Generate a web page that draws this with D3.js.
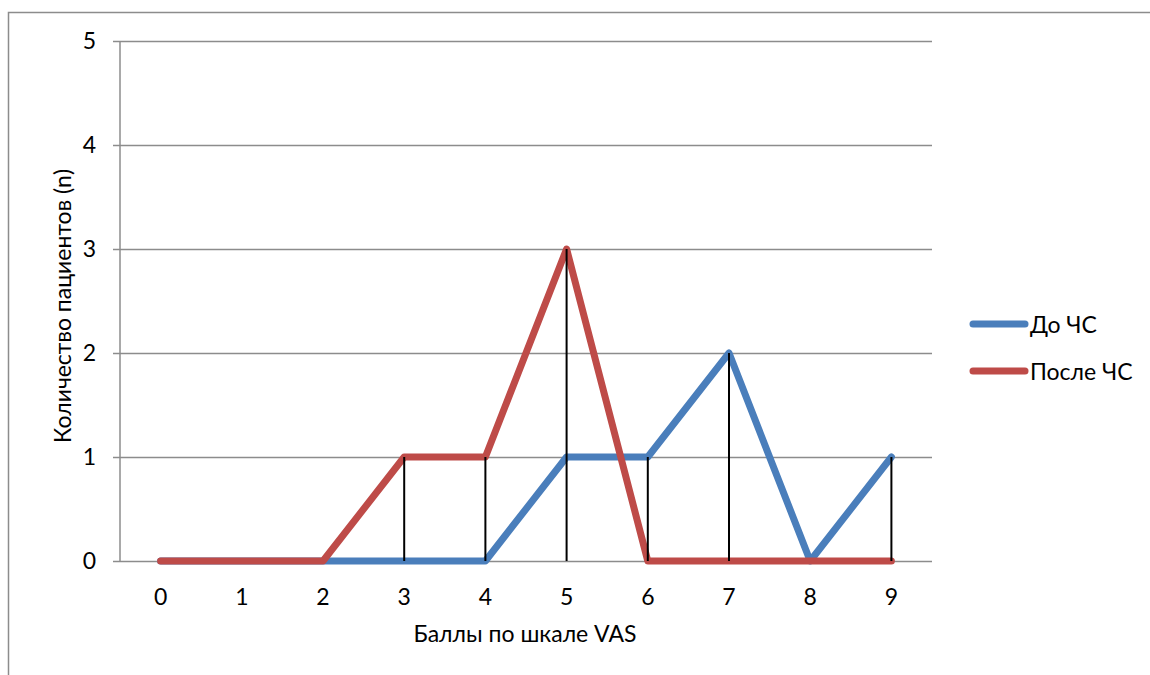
<!DOCTYPE html>
<html>
<head>
<meta charset="utf-8">
<script src="https://cdn.jsdelivr.net/npm/d3@7"></script>
<style>
  html, body { margin: 0; padding: 0; background: #fff; }
  svg { display: block; }
  text { font-family: Lato, "Open Sans", sans-serif; fill: #000; }
</style>
</head>
<body>
<svg id="chart" width="1150" height="675"></svg>
<script>
// VAS score categories and patient counts per group
const categories = [0, 1, 2, 3, 4, 5, 6, 7, 8, 9];
const beforeValues = [0, 0, 0, 0, 0, 1, 1, 2, 0, 1];
const afterValues  = [0, 0, 0, 1, 1, 3, 0, 0, 0, 0];
const yTicks = [0, 1, 2, 3, 4, 5];
const seriesNames = ["До ЧС", "После ЧС"];
const seriesColors = ["#4A7EBB", "#BE4B48"];
const xTitle = "Баллы по шкале VAS";
const yTitle = "Количество пациентов (n)";

const svg = d3.select("#chart");
const plot = { left: 120, right: 932, top: 41, bottom: 561 };

const x = d3.scalePoint()
  .domain(categories)
  .range([plot.left, plot.right])
  .padding(0.5);

const y = d3.scaleLinear()
  .domain([0, 5])
  .range([plot.bottom, plot.top]);

// outer frame (top and left edges)
svg.append("path")
  .attr("d", "M8.5,675 V12.5 H1150")
  .attr("fill", "none")
  .attr("stroke", "#8c8c8c")
  .attr("stroke-width", 1.5);

// horizontal gridlines with ticks on the value axis
const yAxis = d3.axisLeft(y)
  .tickValues(yTicks)
  .tickSize(-(plot.right - plot.left))
  .tickPadding(0)
  .tickFormat("");
const gy = svg.append("g")
  .attr("transform", `translate(${plot.left},0)`)
  .call(yAxis);
gy.select(".domain").remove();
gy.selectAll(".tick line")
  .attr("x1", -7)
  .attr("stroke", "#8c8c8c")
  .attr("stroke-width", 1.5);

// value axis line
svg.append("line")
  .attr("x1", plot.left).attr("x2", plot.left)
  .attr("y1", y(5)).attr("y2", y(0))
  .attr("stroke", "#8c8c8c")
  .attr("stroke-width", 1.5);

// y tick labels
svg.append("g").selectAll("text")
  .data(yTicks)
  .join("text")
  .attr("x", 96)
  .attr("y", d => y(d) + 8)
  .attr("text-anchor", "end")
  .attr("font-size", 23)
  .text(d => d);

// x tick labels
svg.append("g").selectAll("text")
  .data(categories)
  .join("text")
  .attr("x", d => x(d))
  .attr("y", 605)
  .attr("text-anchor", "middle")
  .attr("font-size", 23)
  .text(d => d);

// axis titles
svg.append("text")
  .attr("x", (plot.left + plot.right) / 2 - 1)
  .attr("y", 642)
  .attr("text-anchor", "middle")
  .attr("font-size", 23)
  .text(xTitle);

svg.append("text")
  .attr("transform", `translate(71,306) rotate(-90)`)
  .attr("text-anchor", "middle")
  .attr("font-size", 23)
  .text(yTitle);

// series lines
const line = d3.line()
  .x((d, i) => x(categories[i]))
  .y(d => y(d));

[beforeValues, afterValues].forEach((vals, k) => {
  svg.append("path")
    .datum(vals)
    .attr("d", line)
    .attr("fill", "none")
    .attr("stroke", seriesColors[k])
    .attr("stroke-width", 7)
    .attr("stroke-linejoin", "round")
    .attr("stroke-linecap", "round");
});

// drop lines from the higher series down to zero
svg.append("g").selectAll("line")
  .data(categories.map((c, i) => ({ c, v: Math.max(beforeValues[i], afterValues[i]) }))
    .filter(d => d.v > 0))
  .join("line")
  .attr("x1", d => x(d.c)).attr("x2", d => x(d.c))
  .attr("y1", d => y(d.v)).attr("y2", y(0))
  .attr("stroke", "#000")
  .attr("stroke-width", 2);

// legend
const legend = svg.append("g");
seriesNames.forEach((name, k) => {
  const ly = 324 + k * 47;
  legend.append("line")
    .attr("x1", 973).attr("x2", 1025)
    .attr("y1", ly).attr("y2", ly)
    .attr("stroke", seriesColors[k])
    .attr("stroke-width", 7)
    .attr("stroke-linecap", "round");
  legend.append("text")
    .attr("x", 1030)
    .attr("y", ly + 9)
    .attr("font-size", 23)
    .text(name);
});
</script>
</body>
</html>
